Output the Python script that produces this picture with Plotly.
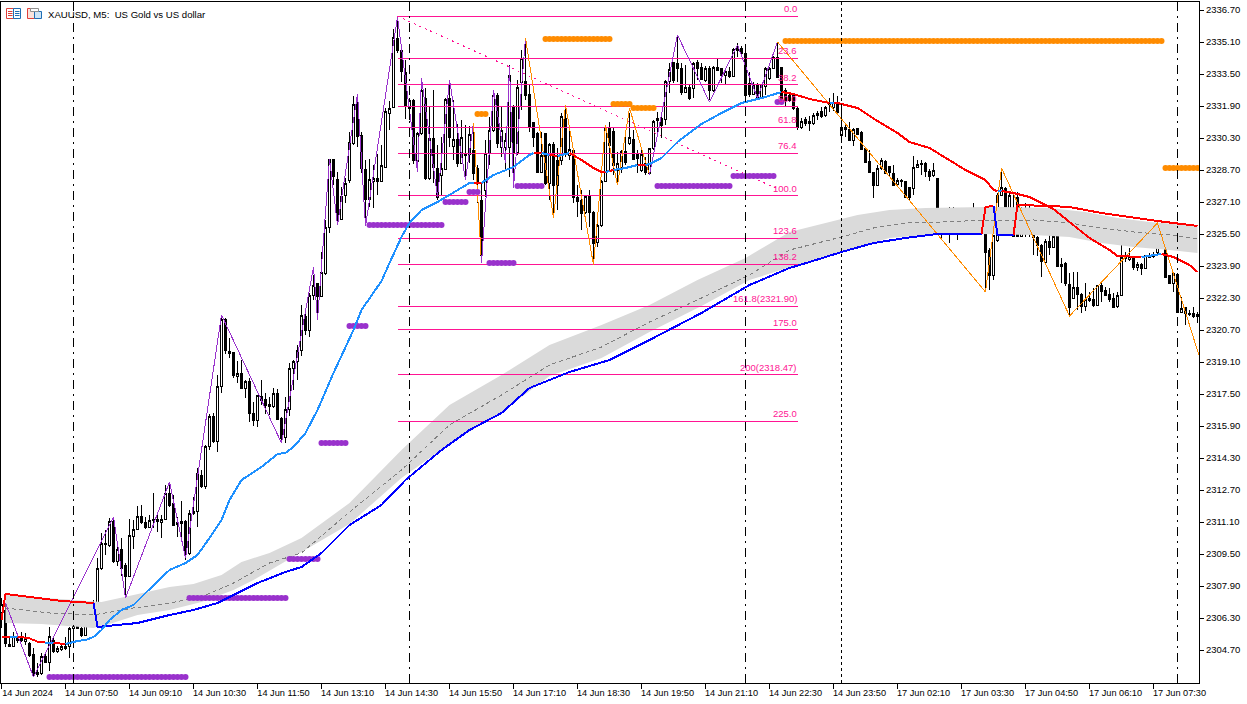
import plotly.graph_objects as go

PRICE_BASE = 2300.0

open_offsets = [
6.6,6.7,5.0,4.9,5.33,5.28,5.13,5.03,4.48,3.58,
3.53,4.4,4.07,5.2,4.62,4.75,4.8,4.87,5.78,6.08,
5.78,5.45,6.25,6.87,6.87,8.78,10.03,9.95,11.12,9.12,
9.73,8.93,8.37,10.37,10.73,11.4,11.1,10.82,11.2,11.23,
11.07,11.23,12.53,12.03,11.08,11.03,11.15,9.53,11.53,11.62,
13.45,12.87,14.87,16.4,15.12,17.9,21.25,19.65,19.57,18.37,
18.53,17.77,18.13,16.53,16.17,17.37,17.23,16.98,16.87,17.53,
16.28,15.33,16.73,18.78,19.12,19.7,21.4,20.67,22.45,23.03,
22.37,23.53,25.85,29.25,28.25,26.25,27.45,28.2,30.05,32.05,
30.45,28.75,27.25,28.15,28.3,28.15,28.85,31.55,31.85,35.3,
34.7,33.6,31.8,32.2,29.15,30.55,32.3,28.3,30.3,28.8,
28.45,28.75,32.3,29.9,30.25,29.05,29.55,29.5,29.7,28.8,
27.2,27.7,29.55,30.7,32.45,29.85,29.85,29.85,31.85,29.6,
33.1,33.15,32.5,31.1,30.55,28.6,30.55,28.05,30.0,29.2,
29.2,31.3,29.45,29.7,27.35,27.2,26.6,27.4,26.6,25.1,
25.95,28.15,30.85,30.65,28.7,28.85,29.65,30.05,30.25,29.55,
28.7,29.05,28.55,29.8,31.2,31.3,31.25,33.15,34.1,34.05,
33.8,32.6,32.85,32.8,34.1,33.85,33.2,33.8,32.7,33.85,
33.8,33.45,33.65,33.4,34.7,34.8,34.55,33.05,32.5,33.0,
32.35,32.9,33.3,33.8,34.35,33.85,32.7,32.45,32.45,31.8,
30.85,31.25,31.15,31.05,31.55,31.65,31.45,32.05,31.85,32.0,
30.45,30.85,30.75,30.2,30.8,30.6,29.8,29.15,28.6,27.95,
28.8,29.15,28.9,28.55,28.0,28.2,28.15,27.85,27.8,28.85,
29.05,29.05,28.65,28.45,28.3,26.35,26.6,26.5,25.55,26.05,
25.65,25.9,26.45,26.55,26.55,25.8,25.85,24.7,23.45,25.2,
27.45,27.8,26.2,26.2,27.35,25.4,26.1,26.25,26.1,25.35,
24.95,24.1,25.15,24.85,25.4,23.9,24.05,23.0,22.3,22.85,
22.5,21.9,22.2,22.25,21.95,22.95,22.7,22.5,22.3,21.9,
22.45,24.4,24.25,24.4,23.85,24.0,23.8,24.4,24.4,24.6,
26.0,25.45,23.45,23.05,23.5,21.6,21.85,21.55,21.55,21.4,
]

high_offsets = [
7.3,7.03,5.37,5.62,5.57,5.62,5.57,5.12,4.78,4.03,
4.53,4.62,5.87,5.37,4.9,4.95,5.37,5.87,6.95,6.12,
5.87,6.32,7.03,7.2,9.28,10.53,10.7,11.28,11.37,10.03,
10.28,9.03,11.23,11.2,11.9,11.95,11.33,11.45,12.53,11.62,
11.45,12.95,13.12,12.45,11.37,12.17,11.2,11.7,12.37,13.78,
13.7,14.95,16.5,16.53,18.45,21.45,21.28,20.32,19.62,19.17,
19.2,18.2,18.28,17.12,17.45,18.2,17.57,17.37,17.78,17.73,
16.37,17.37,19.03,19.2,19.95,21.95,21.7,22.53,23.45,23.03,
24.62,26.2,29.25,29.25,28.6,27.85,28.3,30.6,32.4,32.5,
30.6,29.2,29.25,28.95,29.5,29.95,31.8,32.15,35.75,36.4,
34.75,34.2,32.3,32.25,30.6,33.3,32.8,31.85,32.7,29.95,
30.35,32.3,33.2,32.2,31.0,31.2,30.95,30.9,30.7,28.95,
28.05,30.2,31.35,32.7,32.55,31.85,30.55,33.95,31.95,33.2,
34.7,35.3,32.95,31.1,30.6,30.6,30.55,30.05,30.1,29.8,
31.55,31.95,30.7,29.75,27.95,27.7,27.45,27.7,26.65,26.55,
28.2,30.95,31.1,30.8,29.6,29.7,30.35,31.55,30.7,29.7,
29.7,29.35,29.8,31.2,31.6,31.45,33.2,34.05,34.1,35.45,
34.05,33.95,32.95,34.1,34.2,34.05,33.9,33.9,33.9,34.3,
33.8,33.8,33.85,34.8,35.05,34.9,34.6,33.6,33.1,33.05,
33.0,33.85,33.85,34.4,35.05,33.85,32.8,32.55,32.5,31.85,
31.3,31.35,31.4,31.55,31.65,31.85,31.9,32.3,32.55,32.4,
31.95,31.05,31.1,30.8,30.8,30.65,29.85,29.7,28.6,28.95,
29.3,29.2,28.9,28.95,28.3,28.25,28.15,27.85,29.4,29.2,
29.2,29.1,28.75,29.05,28.3,26.7,26.6,26.85,26.85,26.35,
26.2,26.55,26.55,27.05,26.55,26.35,25.85,24.8,25.45,27.55,
28.6,27.85,27.55,27.55,27.6,26.85,27.05,26.95,26.2,25.4,
25.0,25.25,25.6,25.6,25.7,24.3,24.1,23.55,23.6,23.6,
22.55,23.05,22.6,22.8,22.95,23.1,22.85,22.8,22.55,22.6,
24.95,24.6,24.8,24.4,24.1,24.05,24.45,24.55,24.6,26.05,
26.0,25.45,23.45,23.6,23.55,22.35,21.85,21.7,21.85,21.6,
]

low_offsets = [
5.8,4.87,4.83,4.83,5.03,5.12,4.95,4.37,3.4,3.37,
3.45,4.03,3.67,4.53,4.57,4.67,4.7,4.28,4.78,5.75,
5.37,5.42,6.2,6.7,6.67,8.7,9.45,9.87,9.03,8.9,
8.4,7.45,8.33,9.73,10.7,11.0,10.73,10.78,10.78,10.62,
10.28,11.2,11.87,10.9,10.37,10.2,9.2,9.45,11.45,10.83,
12.78,12.73,14.7,15.03,14.62,17.57,19.5,19.28,18.28,18.03,
17.73,17.28,16.12,15.9,15.83,16.95,16.5,16.45,16.78,16.25,
15.07,15.03,16.4,17.7,18.2,19.4,20.45,20.33,22.2,21.28,
22.37,23.45,25.55,27.95,25.95,26.2,27.05,28.05,29.95,29.85,
28.55,25.9,26.85,26.8,27.45,28.1,28.85,30.7,31.8,34.55,
33.1,31.25,31.2,29.0,28.6,30.45,28.2,28.2,28.05,27.2,
27.4,28.7,29.85,29.2,28.85,29.05,28.2,29.05,28.2,27.05,
24.05,27.35,28.95,30.6,29.8,29.35,28.7,28.35,27.95,29.45,
31.7,32.2,30.6,29.85,28.55,28.55,27.95,27.2,26.45,26.7,
28.95,29.35,29.2,27.05,26.35,25.7,26.5,25.85,24.05,24.85,
25.85,28.1,28.7,28.45,28.05,28.55,28.95,29.95,29.2,28.55,
28.6,28.45,28.45,29.7,30.55,30.3,30.95,32.55,33.05,33.1,
32.45,32.55,32.2,32.3,33.2,33.2,33.1,32.2,32.6,33.65,
33.05,33.0,33.3,33.35,34.35,34.45,32.2,32.35,32.45,32.2,
32.3,32.45,33.2,33.75,33.3,32.1,31.85,32.1,31.7,30.7,
30.75,30.9,30.65,30.95,31.2,31.3,31.35,31.6,31.65,31.45,
30.1,30.35,30.15,29.9,30.45,29.7,29.05,28.55,27.3,27.9,
28.7,28.5,28.35,27.9,27.85,27.85,27.3,27.2,27.45,28.8,
28.45,28.35,28.15,28.35,25.8,25.25,25.55,25.05,25.5,25.2,
25.6,25.85,25.9,25.85,25.7,25.45,22.6,22.7,23.2,25.1,
27.4,26.1,26.1,25.35,25.35,25.35,25.35,25.35,24.45,24.4,
23.35,24.05,24.45,24.8,23.85,23.05,22.9,21.4,22.25,21.7,
21.55,21.65,22.1,21.85,21.9,22.1,22.45,22.1,21.85,21.8,
22.4,24.1,24.15,23.7,23.65,23.45,23.75,24.3,24.3,24.5,
25.35,23.35,23.05,22.6,21.55,21.55,20.95,21.4,21.3,21.05,
]

close_offsets = [
7.0,5.03,4.9,5.37,5.2,5.2,5.27,4.45,3.48,3.48,
4.4,4.07,5.37,4.62,4.78,4.87,4.87,5.78,6.12,5.78,
5.45,6.28,6.87,7.08,8.78,10.03,9.97,11.12,9.12,9.73,
8.78,8.37,10.43,10.75,11.37,11.07,10.82,11.2,11.23,11.15,
11.25,12.53,11.95,10.95,11.0,11.15,9.53,11.53,11.62,13.53,
12.87,14.87,16.4,15.12,17.9,21.25,19.67,19.52,18.42,18.53,
17.77,18.13,16.53,16.17,17.42,17.2,16.95,16.87,17.53,16.25,
15.28,16.73,18.78,19.15,19.7,21.43,20.67,22.45,22.95,22.4,
23.58,25.83,29.25,28.4,26.45,27.4,28.05,30.1,32.0,30.4,
28.8,27.25,28.25,28.3,28.15,28.95,31.65,31.8,35.35,34.7,
33.65,31.95,32.2,29.2,30.55,32.7,28.3,30.3,28.85,27.35,
28.8,32.25,30.35,30.25,29.05,30.35,29.45,30.5,28.55,28.05,
24.45,29.55,30.7,32.45,30.05,30.7,30.2,33.45,29.55,32.85,
34.3,32.45,30.85,30.35,28.6,29.45,28.05,30.0,27.95,27.95,
31.4,29.55,29.75,27.35,27.15,26.55,27.4,26.6,25.05,25.95,
28.15,30.85,29.95,28.95,29.05,29.65,29.1,30.35,29.25,29.3,
29.5,28.6,29.8,31.15,31.3,30.95,33.15,33.75,33.2,33.8,
32.6,32.85,32.3,34.05,33.8,33.25,33.8,32.7,33.85,33.7,
33.45,33.65,33.4,34.75,34.8,34.55,32.45,32.5,33.0,32.35,
32.95,33.8,33.8,34.35,33.35,32.2,32.2,32.2,31.8,30.85,
31.15,31.05,31.05,31.45,31.45,31.4,31.85,32.0,32.1,31.6,
30.85,30.75,30.2,30.75,30.5,29.75,29.1,28.6,27.95,28.8,
29.2,28.55,28.6,27.95,28.2,28.15,27.35,27.35,28.85,29.0,
29.0,28.65,28.4,28.7,26.35,26.65,26.5,25.55,26.05,25.65,
25.95,26.45,26.55,26.45,26.3,26.3,24.6,23.45,25.45,27.45,
27.85,26.25,27.45,25.4,25.4,26.45,26.45,26.1,25.35,24.95,
24.15,25.15,24.85,25.4,23.9,24.0,23.05,21.85,22.85,22.5,
21.9,22.25,22.3,21.95,22.95,22.65,22.45,22.25,21.85,22.45,
24.35,24.3,24.4,23.85,24.0,23.8,24.45,24.35,24.5,25.95,
25.45,23.35,23.05,23.55,21.6,21.8,21.55,21.5,21.4,21.5,
]

price_tick_labels = ["2336.70","2335.10","2333.50","2331.90","2330.30","2328.70","2327.10",
    "2325.50","2323.90","2322.30","2320.70","2319.10","2317.50","2315.90","2314.30",
    "2312.70","2311.10","2309.50","2307.90","2306.30","2304.70"]
time_tick_labels = ["14 Jun 2024","14 Jun 07:50","14 Jun 09:10","14 Jun 10:30","14 Jun 11:50",
    "14 Jun 13:10","14 Jun 14:30","14 Jun 15:50","14 Jun 17:10","14 Jun 18:30","14 Jun 19:50",
    "14 Jun 21:10","14 Jun 22:30","14 Jun 23:50","17 Jun 02:10","17 Jun 03:30","17 Jun 04:50",
    "17 Jun 06:10","17 Jun 07:30"]
time_tick_bars = [0,16,32,48,64,80,96,112,128,144,160,176,192,208,224,240,256,272,288]

fib_names = ["0.0","23.6","38.2","50.0","61.8","76.4","100.0","123.6","138.2",
             "161.8(2321.90)","175.0","200(2318.47)","225.0"]
fib_prices = [2336.40,2334.28,2332.97,2331.90,2330.84,2329.53,2327.41,2325.29,2323.98,
              2321.90,2320.72,2318.47,2316.15]
fib_start_bar, fib_end_bar = 99, 199.2
trend_bars = [99, 193.5]
trend_prices = [2336.40, 2327.8]

separator_bars = [18, 102, 186, 294]
session_bars = [210]

# gray band
band_up_bars = [1,25,33,42,48,55,60,67,75,87,100,112,125,137,150,162,174,186,197,206,214,222,231,246,250,262,271,279,287,299]
band_up_vals = [7.45,7.1,7.45,7.85,8.0,8.45,9.1,9.55,10.3,12.05,14.7,16.95,18.45,19.95,20.95,21.95,23.2,24.3,25.6,26.05,26.45,26.7,26.8,26.85,26.85,26.8,26.6,26.3,26.1,25.9]
band_lo_bars = [1,10,23,27,34,42,50,58,63,75,87,100,112,125,137,150,162,175,187,197,206,222,231,245,258,267,275,283,292,299]
band_lo_vals = [6.05,6.0,5.8,6.0,6.45,6.7,7.1,7.7,8.2,9.6,11.0,13.3,15.0,16.6,18.4,19.3,20.6,21.9,23.2,23.85,24.4,25.3,25.45,25.5,25.45,25.35,25.05,24.85,24.7,24.55]
band_mid_bars = [1,12,23,33,42,50,58,67,75,87,100,112,125,137,150,162,175,187,197,210,218,226,235,247,250,258,267,275,283,292,299]
band_mid_vals = [6.8,6.55,6.45,6.8,7.05,7.35,8.05,9.05,9.55,11.6,13.7,15.95,17.45,18.95,19.85,21.1,22.3,23.45,24.7,25.35,25.8,26.05,26.1,26.2,26.15,26.2,26.05,25.8,25.6,25.45,25.25]

# fast average: colour segments
fast_segments = [
 ("red",  [0,2],[5.37,5.37]),
 ("blue", [2,4],[5.37,5.37]),
 ("red",  [4,7,9,11],[5.37,5.28,5.12,5.07]),
 ("blue", [11,13],[5.07,5.05]),
 ("red",  [13,16],[5.05,5.0]),
 ("blue", [16,19,21,23,25,27,30,33,36,39,42,46,49,52,55,57,60,65,69,71,73,76,79,83,88,90,95,97,100,102,105,109,112,117,118],
          [5.0,5.15,5.2,5.35,5.7,6.2,6.7,6.95,7.55,8.1,8.7,9.05,9.45,10.3,11.2,12.2,13.2,13.85,14.5,14.55,14.85,15.55,16.7,18.55,20.7,21.7,23.15,24.05,25.35,26.05,26.7,27.1,27.45,28.05,28.05]),
 ("red",  [118,120],[28.05,28.05]),
 ("blue", [120,123,128,132,133],[28.05,28.45,28.85,29.45,29.55]),
 ("red",  [133,135],[29.55,29.55]),
 ("blue", [135,137],[29.55,29.45]),
 ("red",  [137,139],[29.45,29.4]),
 ("blue", [139,142],[29.4,29.55]),
 ("red",  [142,145,148,150,151],[29.55,29.2,28.8,28.6,28.6]),
 ("blue", [151,152],[28.6,28.65]),
 ("red",  [152,153],[28.65,28.7]),
 ("blue", [153,156,159],[28.7,28.8,28.95]),
 ("red",  [159,161],[28.95,28.95]),
 ("blue", [161,162,165,169,175,180,185,189,191,195],[28.95,29.0,29.3,30.1,31.0,31.55,32.05,32.25,32.35,32.6]),
 ("red",  [195,198,202,207],[32.6,32.5,32.25,32.05]),
 ("blue", [207,208],[32.05,32.05]),
 ("red",  [208,209,214,219,224,227,232,236,241,246,248,249],[32.05,32.05,31.8,31.15,30.55,30.1,29.8,29.3,28.7,28.2,27.7,27.65]),
 ("blue", [249,250],[27.65,27.65]),
 ("red",  [250,253,257,261,263,267,272,277,279,285],[27.65,27.55,27.35,26.95,26.75,26.1,25.3,24.7,24.4,24.35]),
 ("blue", [285,290],[24.35,24.5]),
 ("red",  [290,293,297,299],[24.5,24.35,23.95,23.6]),
]

# slow average: colour segments
slow_segments = [
 ("red",  [0,1,7,15,23],[6.2,7.5,7.35,7.15,7.05]),
 ("blue", [23,24,34,42,48,54,58,64,71,75,80,87,95,101,110,117,125,132,142,152,162,175,187,197,202,210,218,226,234,245],
          [7.05,5.85,6.05,6.45,6.7,7.05,7.45,8.05,8.6,8.85,9.55,10.95,11.95,13.2,14.7,15.7,16.55,17.8,18.6,19.2,20.2,21.55,22.95,23.8,24.1,24.6,25.05,25.3,25.5,25.5]),
 ("red",  [245,246,248],[25.5,26.85,26.9]),
 ("blue", [248,249,253],[26.9,25.45,25.45]),
 ("red",  [253,254,262,267,275,283,289,295,299],[25.45,26.95,26.9,26.85,26.55,26.3,26.15,26.0,25.9]),
]

# zigzag pieces
zigzag_segments = [
 ("purple",[1,8,28,31,42,46,55,70,78,79,82,84,89,91,99,104,105,109,112,116,118],
           [7.05,3.35,11.35,7.3,13.1,9.3,21.45,15.05,23.85,21.2,29.25,25.95,32.5,25.9,36.35,28.6,33.3,27.35,33.2,28.2,31.05]),
 ("orange",[118,120],[31.05,24.05]),
 ("purple",[120,123,126,127,128,131],[24.05,32.7,29.05,33.9,27.8,35.3]),
 ("orange",[131,138,141,148,151,154,157,162],[35.3,26.3,31.95,23.95,30.95,27.95,31.8,28.45]),
 ("purple",[162,169,177,184,189,194],[28.45,35.45,32.1,34.95,32.3,35.1]),
 ("orange",[194,246,250,267,289,299.5],[35.1,22.6,28.8,21.4,26.05,19.35]),
]

# dot rows: first bar, last bar, price offset
purple_rows = [(12,46,3.35),(47,71,7.3),(72,79,9.25),(80,86,15.05),(87,91,20.9),(92,110,25.95),
               (111,116,27.1),(117,119,27.6),(122,128,24.05),(129,135,27.9),(164,182,27.9),
               (183,193,28.4),(194,195,32.1)]
orange_rows = [(119,121,31.5),(136,152,35.25),(153,157,32.0),(158,163,31.8),(196,290,35.15),(291,299,28.8)]

COLORS = {"red":"#FF0000","blue":"#0000FF","lightblue":"#1E90FF","purple":"#9932CC","orange":"#FF8C00"}
PINK = "#FF1493"
FONT = "Liberation Sans"

def px(vals):
    return [PRICE_BASE + v for v in vals]

fig = go.Figure()

fig.add_trace(go.Scatter(x=band_up_bars + band_lo_bars[::-1],
                         y=px(band_up_vals + band_lo_vals[::-1]),
                         mode="lines", fill="toself", fillcolor="#DADADA",
                         line=dict(width=0), hoverinfo="skip"))
fig.add_trace(go.Scatter(x=band_mid_bars, y=px(band_mid_vals), mode="lines",
                         line=dict(color="#808080", width=1, dash="4px,3px"), hoverinfo="skip"))

fig.add_trace(go.Candlestick(x=list(range(len(open_offsets))),
    open=px(open_offsets), high=px(high_offsets), low=px(low_offsets), close=px(close_offsets),
    increasing=dict(line=dict(color="#000000", width=1), fillcolor="#FFFFFF"),
    decreasing=dict(line=dict(color="#000000", width=1), fillcolor="#000000"),
    whiskerwidth=0, hoverinfo="skip"))

for name, price in zip(fib_names, fib_prices):
    fig.add_trace(go.Scatter(x=[fib_start_bar, fib_end_bar], y=[price, price], mode="lines",
                             line=dict(color=PINK, width=1), hoverinfo="skip"))
fig.add_trace(go.Scatter(x=trend_bars, y=trend_prices, mode="lines",
                         line=dict(color=PINK, width=1, dash="2px,4px"), hoverinfo="skip"))

for col, xs, ys in zigzag_segments:
    fig.add_trace(go.Scatter(x=xs, y=px(ys), mode="lines",
                             line=dict(color=COLORS[col], width=1), hoverinfo="skip"))

for rows, col in ((purple_rows, "purple"), (orange_rows, "orange")):
    xs, ys = [], []
    for a, b, v in rows:
        for i in range(a, b + 1):
            xs.append(i); ys.append(PRICE_BASE + v)
    fig.add_trace(go.Scatter(x=xs, y=ys, mode="markers",
                             marker=dict(color=COLORS[col], size=6, line=dict(width=0)), hoverinfo="skip"))

for col, xs, ys in slow_segments:
    fig.add_trace(go.Scatter(x=xs, y=px(ys), mode="lines",
                             line=dict(color=COLORS[col], width=2), hoverinfo="skip"))
for col, xs, ys in fast_segments:
    c = COLORS["lightblue"] if col == "blue" else COLORS["red"]
    fig.add_trace(go.Scatter(x=xs, y=px(ys), mode="lines",
                             line=dict(color=c, width=2), hoverinfo="skip"))

shapes = []
for b in separator_bars:
    shapes.append(dict(type="line", xref="x", yref="paper", x0=b, x1=b, y0=0, y1=1,
                       line=dict(color="#000000", width=1, dash="9px,5px,2px,5px")))
for b in session_bars:
    shapes.append(dict(type="line", xref="x", yref="paper", x0=b, x1=b, y0=0, y1=1,
                       line=dict(color="#000000", width=1, dash="3px,3px")))

W, H, L, T, R, B = 1247, 704, 1, 2, 48, 21
def pxx(x): return (x - L) / (W - L - R)
def pxy(y): return (H - B - y) / (H - T - B)
def icon_rect(x0, y0, x1, y1, color, fill="rgba(0,0,0,0)"):
    shapes.append(dict(type="rect", xref="paper", yref="paper",
                       x0=pxx(x0), x1=pxx(x1), y0=pxy(y0), y1=pxy(y1),
                       line=dict(color=color, width=1), fillcolor=fill))
def icon_line(x0, y0, x1, y1, color):
    shapes.append(dict(type="line", xref="paper", yref="paper",
                       x0=pxx(x0), x1=pxx(x1), y0=pxy(y0), y1=pxy(y1),
                       line=dict(color=color, width=1)))
icon_rect(6.5, 8.5, 13.5, 18.5, "#E0403A")
icon_rect(13.5, 8.5, 20.5, 18.5, "#1F6FB5")
for yy in (11.5, 13.5, 15.5):
    icon_line(8, yy, 12.5, yy, "#E0403A")
    icon_line(15, yy, 19.5, yy, "#1F6FB5")
icon_rect(27.5, 8.5, 34.5, 18.5, "#E0403A", "#FBE3DC")
icon_rect(34.5, 11.5, 41.5, 18.5, "#1F6FB5", "#CFE4F5")
icon_rect(30.5, 8.5, 38.5, 11.5, "#909090", "#FFFFFF")

annotations = [dict(xref="paper", yref="paper", x=pxx(45.5), y=pxy(14), xanchor="left", yanchor="middle",
                    text="XAUUSD, M5:\u00a0\u00a0US Gold vs US dollar", showarrow=False,
                    font=dict(family=FONT, size=9.6, color="#000000"))]
for name, price in zip(fib_names, fib_prices):
    annotations.append(dict(xref="x", yref="y", x=fib_end_bar - 0.1, y=price, xanchor="right", yanchor="bottom",
                            text=name, showarrow=False, yshift=1,
                            font=dict(family=FONT, size=9.5, color=PINK),
                            borderpad=0, bgcolor="rgba(0,0,0,0)"))

fig.update_layout(
    width=W, height=H, margin=dict(l=L, r=R, t=T, b=B, pad=0),
    paper_bgcolor="#FFFFFF", plot_bgcolor="#FFFFFF", showlegend=False,
    font=dict(family=FONT, size=9.5, color="#000000"),
    shapes=shapes, annotations=annotations, boxgap=0.5, boxgroupgap=0,
    xaxis=dict(range=[-0.125, 299.375], rangeslider=dict(visible=False), showgrid=False, zeroline=False,
               showline=True, linecolor="#000000", linewidth=1, mirror=True,
               tickmode="array", tickvals=time_tick_bars, ticktext=time_tick_labels,
               tickfont=dict(family=FONT, size=9.2, color="#000000"),
               ticks="outside", ticklen=5, tickcolor="#000000", tickwidth=1,
               tickangle=0, ticklabelshift=26, ticklabelstandoff=-4),
    yaxis=dict(range=[2303.05, 2337.1], side="right", showgrid=False, zeroline=False,
               showline=True, linecolor="#000000", linewidth=1, mirror=True,
               tickmode="array", tickvals=[float(t) for t in price_tick_labels], ticktext=price_tick_labels,
               ticks="outside", ticklen=4, tickcolor="#000000", tickwidth=1, ticklabelstandoff=0),
)

crisp = """
document.body.style.margin='0';document.body.style.overflow='hidden';
function crisp(){document.querySelectorAll('.cartesianlayer .boxes path, .cartesianlayer .js-line').forEach(function(p){p.style.shapeRendering='crispEdges';});}
crisp();setTimeout(crisp,50);setTimeout(crisp,300);
"""
fig.write_html("out.html", config=dict(displayModeBar=False), post_script=crisp)
